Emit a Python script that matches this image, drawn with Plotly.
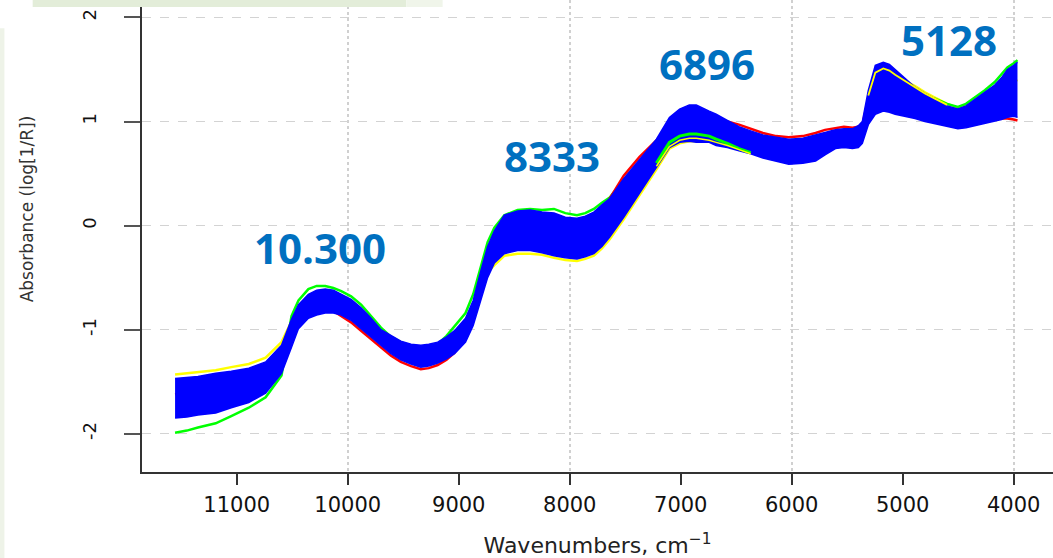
import plotly.graph_objects as go

# ---------------- data ----------------
wavenumber = [11556, 11450, 11350, 11190, 11050, 10892, 10740, 10597, 10507, 10444,
              10355, 10280, 10203, 10130, 10059, 9970, 9880, 9790, 9701, 9610,
              9522, 9430, 9342, 9270, 9190, 9110, 9038, 8939, 8870, 8805,
              8740, 8679, 8590, 8470, 8357, 8250, 8142, 8040, 7935, 7860,
              7783, 7710, 7640, 7514, 7371, 7219, 7102, 7010, 6923, 6860,
              6744, 6681, 6580, 6475, 6370, 6260, 6140, 6027, 5900, 5785,
              5700, 5606, 5530, 5453, 5400, 5364, 5310, 5247, 5175, 5120,
              5068, 4980, 4889, 4800, 4710, 4600, 4503, 4430, 4352, 4260,
              4171, 4110, 4057, 4000, 3966]

blue_upper = [-1.47, -1.46, -1.45, -1.42, -1.40, -1.37, -1.31, -1.15, -0.90, -0.76,
              -0.66, -0.62, -0.61, -0.62, -0.66, -0.71, -0.79, -0.89, -1.00, -1.06,
              -1.11, -1.14, -1.15, -1.14, -1.12, -1.07, -1.01, -0.89, -0.72, -0.45,
              -0.20, -0.05, 0.10, 0.14, 0.15, 0.13, 0.12, 0.08, 0.07, 0.09,
              0.13, 0.20, 0.26, 0.45, 0.63, 0.83, 1.04, 1.12, 1.16, 1.16,
              1.10, 1.07, 1.01, 0.95, 0.91, 0.87, 0.85, 0.83, 0.84, 0.87,
              0.89, 0.92, 0.93, 0.93, 0.96, 1.00, 1.30, 1.54, 1.57, 1.55,
              1.50, 1.42, 1.33, 1.27, 1.22, 1.15, 1.12, 1.15, 1.21, 1.28,
              1.35, 1.42, 1.50, 1.54, 1.57]

blue_lower = [-1.85, -1.84, -1.82, -1.80, -1.75, -1.70, -1.61, -1.42, -1.17, -0.99,
              -0.89, -0.86, -0.84, -0.84, -0.86, -0.91, -0.99, -1.07, -1.15, -1.23,
              -1.29, -1.33, -1.36, -1.35, -1.32, -1.28, -1.23, -1.12, -0.96, -0.72,
              -0.50, -0.36, -0.27, -0.24, -0.24, -0.26, -0.29, -0.31, -0.32, -0.30,
              -0.27, -0.20, -0.11, 0.08, 0.31, 0.56, 0.75, 0.80, 0.81, 0.80,
              0.80, 0.77, 0.75, 0.72, 0.69, 0.65, 0.62, 0.59, 0.60, 0.62,
              0.68, 0.74, 0.75, 0.74, 0.75, 0.79, 0.97, 1.07, 1.10, 1.09,
              1.07, 1.05, 1.03, 1.00, 0.98, 0.95, 0.93, 0.94, 0.96, 0.98,
              1.00, 1.02, 1.04, 1.05, 1.04]

yellow_spectrum = [-1.43, -1.42, -1.41, -1.39, -1.36, -1.33, -1.27, -1.12, -0.92, -0.80,
                   -0.72, -0.69, -0.68, -0.69, -0.72, -0.77, -0.85, -0.95, -1.04, -1.11,
                   -1.17, -1.20, -1.22, -1.21, -1.20, -1.16, -1.10, -0.98, -0.85, -0.62,
                   -0.45, -0.38, -0.29, -0.27, -0.27, -0.28, -0.31, -0.33, -0.34, -0.32,
                   -0.29, -0.22, -0.13, 0.06, 0.29, 0.54, 0.74, 0.79, 0.81, 0.81,
                   0.81, 0.79, 0.77, 0.75, 0.72, 0.70, 0.68, 0.66, 0.66, 0.68,
                   0.72, 0.76, 0.77, 0.78, 0.80, 0.84, 1.15, 1.45, 1.50, 1.48,
                   1.45, 1.39, 1.34, 1.28, 1.23, 1.17, 1.13, 1.15, 1.18, 1.23,
                   1.28, 1.32, 1.35, 1.38, 1.40]

green_spectrum = [-1.99, -1.97, -1.94, -1.90, -1.83, -1.75, -1.65, -1.44, -0.87, -0.72,
                  -0.61, -0.58, -0.58, -0.60, -0.63, -0.68, -0.76, -0.87, -0.98, -1.07,
                  -1.12, -1.16, -1.18, -1.17, -1.14, -1.06, -0.97, -0.84, -0.66, -0.40,
                  -0.16, -0.02, 0.10, 0.15, 0.16, 0.15, 0.16, 0.12, 0.10, 0.12,
                  0.16, 0.22, 0.27, 0.44, 0.60, 0.78, 0.86, 0.88, 0.88, 0.88,
                  0.86, 0.84, 0.80, 0.76, 0.73, 0.70, 0.68, 0.66, 0.68, 0.71,
                  0.76, 0.80, 0.81, 0.81, 0.84, 0.88, 1.12, 1.36, 1.40, 1.38,
                  1.35, 1.30, 1.26, 1.24, 1.22, 1.17, 1.14, 1.17, 1.23, 1.30,
                  1.38, 1.45, 1.52, 1.56, 1.59]

red_spectrum = [-1.62, -1.60, -1.58, -1.55, -1.52, -1.48, -1.42, -1.27, -1.05, -0.93,
                -0.84, -0.81, -0.80, -0.82, -0.87, -0.93, -1.01, -1.09, -1.17, -1.25,
                -1.31, -1.35, -1.38, -1.37, -1.34, -1.29, -1.22, -1.08, -0.85, -0.55,
                -0.30, -0.15, -0.05, -0.01, -0.01, -0.03, -0.05, -0.08, -0.09, -0.06,
                0.00, 0.12, 0.26, 0.48, 0.66, 0.82, 0.97, 1.03, 1.05, 1.05,
                1.03, 1.02, 1.00, 0.97, 0.93, 0.89, 0.86, 0.85, 0.86, 0.89,
                0.92, 0.94, 0.95, 0.94, 0.95, 0.97, 1.22, 1.42, 1.46, 1.44,
                1.40, 1.32, 1.25, 1.18, 1.13, 1.07, 1.04, 1.03, 1.03, 1.03,
                1.03, 1.03, 1.03, 1.02, 1.01]

# spectra segments visible inside the blue cloud
inner_wn_6900 = [7219, 7102, 7010, 6923, 6860, 6744, 6681, 6580, 6475, 6370]
green_inner_6900 = [0.60, 0.80, 0.86, 0.88, 0.88, 0.86, 0.83, 0.79, 0.74, 0.70]
yellow_inner_6900 = [0.57, 0.76, 0.82, 0.84, 0.84, 0.82, 0.80, 0.77, 0.73, 0.69]

inner_wn_5128 = [5310, 5247, 5175, 5120, 5068, 4980, 4889, 4800, 4710, 4600]
yellow_inner_5128 = [1.25, 1.47, 1.51, 1.49, 1.45, 1.39, 1.33, 1.27, 1.22, 1.16]

peak_labels = ["10.300", "8333", "6896", "5128"]
peak_label_x = [10247, 8159, 6762, 4584]
peak_label_y = [-0.21, 0.67, 1.56, 1.79]

x_tick_values = [11000, 10000, 9000, 8000, 7000, 6000, 5000, 4000]
x_tick_labels = ["11000", "10000", "9000", "8000", "7000", "6000", "5000", "4000"]
y_tick_values = [-2, -1, 0, 1, 2]
y_tick_labels = ["-2", "-1", "0", "1", "2"]

BLUE = "#0000FF"
GREEN = "#00FF00"
YELLOW = "#FFFF00"
RED = "#FF0000"

fig = go.Figure()

for vals, col in [(yellow_spectrum, YELLOW), (green_spectrum, GREEN), (red_spectrum, RED)]:
    fig.add_trace(go.Scatter(x=wavenumber, y=vals, mode="lines",
                             line=dict(color=col, width=2.5),
                             showlegend=False, hoverinfo="skip"))

fig.add_trace(go.Scatter(x=wavenumber, y=blue_lower, mode="lines",
                         line=dict(color=BLUE, width=1.5),
                         showlegend=False, hoverinfo="skip"))
fig.add_trace(go.Scatter(x=wavenumber, y=blue_upper, mode="lines",
                         line=dict(color=BLUE, width=1.5),
                         fill="tonexty", fillcolor=BLUE,
                         showlegend=False, hoverinfo="skip"))

fig.add_trace(go.Scatter(x=inner_wn_6900, y=green_inner_6900, mode="lines",
                         line=dict(color=GREEN, width=3), showlegend=False, hoverinfo="skip"))
fig.add_trace(go.Scatter(x=inner_wn_6900, y=yellow_inner_6900, mode="lines",
                         line=dict(color=YELLOW, width=1.5), showlegend=False, hoverinfo="skip"))
fig.add_trace(go.Scatter(x=inner_wn_5128, y=yellow_inner_5128, mode="lines",
                         line=dict(color=YELLOW, width=1.8), showlegend=False, hoverinfo="skip"))

for txt, xv, yv in zip(peak_labels, peak_label_x, peak_label_y):
    fig.add_annotation(x=xv, y=yv, xref="x", yref="y", text=txt, showarrow=False,
                       xanchor="center", yanchor="middle",
                       font=dict(family="Open Sans", size=42, color="#0070C0", weight="bold"))

# y-axis title (R places it slightly above the visible plot centre)
fig.add_annotation(x=-0.126, y=0.557, xref="paper", yref="paper",
                   text="Absorbance (log[1/R])", textangle=-90, showarrow=False,
                   xanchor="center", yanchor="middle",
                   font=dict(family="DejaVu Sans", size=17, color="#333333"))

# slide decoration (green band at top, faint strip at left)
fig.add_shape(type="rect", xref="paper", yref="paper", x0=-0.12, x1=0.29, y0=0.985, y1=1.02,
              fillcolor="#e3edd9", line=dict(width=0), layer="above")
fig.add_shape(type="rect", xref="paper", yref="paper", x0=0.29, x1=0.33, y0=0.985, y1=1.02,
              fillcolor="#f0f5ea", line=dict(width=0), layer="above")
fig.add_shape(type="rect", xref="paper", yref="paper", x0=-0.156, x1=-0.151, y0=-0.2, y1=0.94,
              fillcolor="#eef3e8", line=dict(width=0), layer="above")

fig.update_layout(
    width=1053, height=558,
    margin=dict(l=142, r=0, t=0, b=86),
    paper_bgcolor="white", plot_bgcolor="white",
    font=dict(family="DejaVu Sans", color="#111111"),
    showlegend=False,
    xaxis=dict(
        range=[11854, 3646],
        tickmode="array", tickvals=x_tick_values, ticktext=x_tick_labels,
        ticks="outside", ticklen=11, tickwidth=1.5, tickcolor="#333333",
        showline=True, linecolor="#333333", linewidth=1.5,
        showgrid=False, zeroline=False,
        minor=dict(dtick=2000, tick0=0, showgrid=True, gridcolor="#d0d0d0",
                   griddash="dot", gridwidth=1.5, ticks=""),
        tickfont=dict(family="DejaVu Sans", size=21, color="#111111"),
        ticklabelstandoff=2,
        title=dict(text="Wavenumbers, cm<sup>\u22121</sup>",
                   font=dict(family="DejaVu Sans", size=22, color="#222222"),
                   standoff=22),
    ),
    yaxis=dict(
        range=[-2.368, 2.168],
        tickmode="array", tickvals=y_tick_values, ticktext=y_tick_labels,
        tickangle=-90,
        ticks="outside", ticklen=16, tickwidth=1.5, tickcolor="#555555",
        showline=True, linecolor="#333333", linewidth=1.5,
        showgrid=True, gridcolor="#d3d3d3", griddash="dash", gridwidth=1,
        zeroline=False,
        tickfont=dict(family="DejaVu Sans", size=18, color="#111111"),
        ticklabelstandoff=21,
    ),
)

fig.write_html("out.html", config={"displayModeBar": False},
               post_script="document.body.style.margin='0';")
